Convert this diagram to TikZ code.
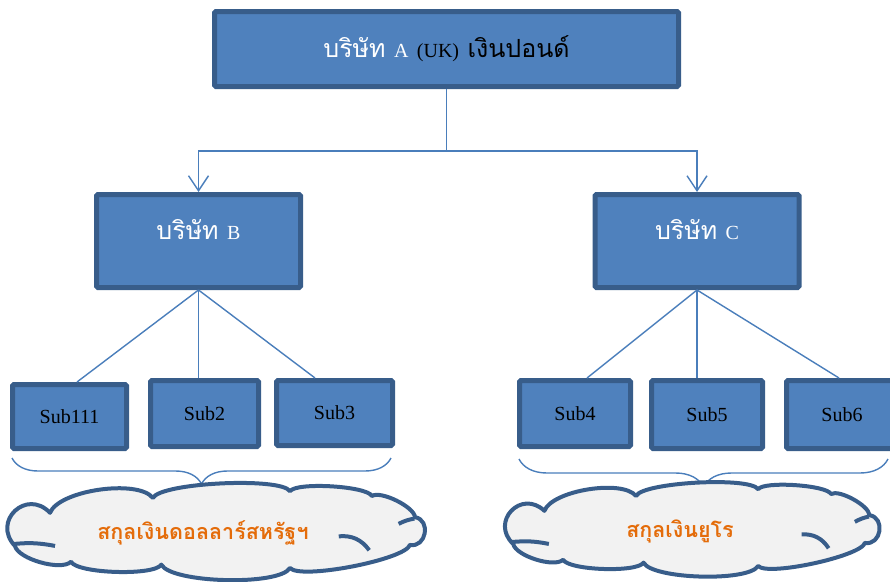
\documentclass[tikz,border=0pt]{standalone}
\usepackage{fontspec}
\setmainfont{Liberation Serif}
\newfontfamily\thaifont[Script=Thai]{Loma}
\usetikzlibrary{decorations.pathreplacing}
\usetikzlibrary{arrows.meta}
\usetikzlibrary{calc}
\definecolor{boxfill}{HTML}{4F81BD}
\definecolor{boxline}{HTML}{385D8A}
\definecolor{linkline}{HTML}{4A7EBB}
\definecolor{cloudfill}{HTML}{F2F2F2}
\definecolor{cloudtext}{HTML}{E46C0A}
\newcommand{\thaisize}{\fontsize{25}{30}\selectfont}
\newcommand{\latinsize}{\fontsize{20}{24}\selectfont}
\newcommand{\subsize}{\fontsize{20}{24}\selectfont}
\newcommand{\cloudsize}{\fontsize{21.5}{25}\selectfont}
\newcommand{\latin}[1]{{\latinsize\rmfamily #1}}
% cloud outline, in units of half width / half height
\newcommand{\currencycloud}[3]{%
  \begin{scope}[shift={#1}, x=#2, y=-#3]
    \draw[cloudbody] (-0.80,-0.40) to[bend left=60, looseness=0.6] (-0.31,-0.71)
      to[bend left=60, looseness=0.32] (0.343,-0.85)
      to[bend left=60, looseness=0.35] (0.733,-0.75)
      to[bend left=60, looseness=0.55] (0.938,-0.31)
      to[bend left=90, looseness=1.5] (0.914,0.27)
      to[bend left=60, looseness=0.33] (0.343,0.75)
      to[bend left=60, looseness=0.42] (-0.27,0.68)
      to[bend left=60, looseness=0.38] (-0.70,0.62)
      to[bend left=60, looseness=0.6] (-0.967,0.29)
      to[bend left=90, looseness=1.8] (-0.80,-0.40) -- cycle;
    \draw[cloudedge] (-0.974,0.25) to[bend left=8] (-0.776,0.29);
    \draw[cloudedge] (0.575,0.09) to[bend left=30] (0.72,0.38);
    \draw[cloudedge] (0.86,-0.17) to[bend left=8] (0.935,-0.28);
  \end{scope}}
\tikzset{
  orgbox/.style={draw=boxline, fill=boxfill, line width=5pt,
    rounded corners=1.5pt, inner sep=0pt},
  subbox/.style={orgbox, font=\subsize},
  boxtxt/.style={inner sep=0pt, text=white, font=\thaisize\thaifont},
  link/.style={draw=linkline, line width=1.4pt},
  linkarrow/.style={link,
    -{Straight Barb[length=15pt, width=20pt]}},
  groupbrace/.style={draw=linkline, line width=1.4pt, decorate,
    decoration={brace, mirror, amplitude=#1}},
  cloudbody/.style={draw=boxline, fill=cloudfill, line width=4pt,
    line join=round},
  cloudedge/.style={draw=boxline, line width=4pt},
  curtext/.style={font=\cloudsize\thaifont\bfseries, text=cloudtext}
}

\begin{document}
\begin{tikzpicture}[x=1pt, y=-1pt]
    \useasboundingbox (0,0) rectangle (890,581);

    % parent
    \node[orgbox, font=\thaisize\thaifont, minimum width=464pt,
      minimum height=75pt] (A) at (446.5,49)
      {\textcolor{white}{บริษัท \latin{A}} \latin{(UK)} เงินปอนด์};

    % subsidiaries
    \node[orgbox, minimum width=204pt, minimum height=93pt] (B) at (198.5,241) {};
    \node[orgbox, minimum width=204pt, minimum height=93pt] (C) at (697,241) {};
    \node[boxtxt] (Blabel) at ($(B.center)+(0,-11)$) {บริษัท \latin{B}};
    \node[boxtxt] (Clabel) at ($(C.center)+(0,-11)$) {บริษัท \latin{C}};

    \node[subbox, minimum width=114pt, minimum height=64pt] (s111) at (69.5,416.5) {Sub111};
    \node[subbox, minimum width=108pt, minimum height=66pt] (s2) at (204.5,413.5) {Sub2};
    \node[subbox, minimum width=116pt, minimum height=65pt] (s3) at (334.5,413) {Sub3};
    \node[subbox, minimum width=111pt, minimum height=66pt] (s4) at (575,413.5) {Sub4};
    \node[subbox, minimum width=111pt, minimum height=68pt] (s5) at (707,414.5) {Sub5};
    \node[subbox, minimum width=111pt, minimum height=68pt] (s6) at (842,414.5) {Sub6};

    % links
    \coordinate (fork) at ($(A.south)+(0,62)$);
    \draw[link] (A.south) -- (fork);
    \draw[linkarrow] (fork) -| (B.north);
    \draw[linkarrow] (fork) -| (C.north);

    \draw[link] (B.south) -- ($(s111.north)+(7.5,0)$);
    \draw[link] (B.south) -- (B.south |- s2.north);
    \draw[link] (B.south) -- ($(s3.north)+(-19.5,0)$);
    \draw[link] (C.south) -- ($(s4.north)+(12,0)$);
    \draw[link] (C.south) -- (C.south |- s5.north);
    \draw[link] (C.south) -- ($(s6.north)+(-3,0)$);

    % currency groups
    \draw[groupbrace=26pt] (12,458) -- (391,458);
    \draw[groupbrace=28pt] (519,459) -- (888,459);

    \currencycloud{(218,532)}{210pt}{48pt}
    \currencycloud{(694,530)}{187pt}{48pt}
    \node[curtext] (usdtxt) at (203,533) {สกุลเงินดอลลาร์สหรัฐฯ};
    \node[curtext] (eurtxt) at (680,531) {สกุลเงินยูโร};
  \end{tikzpicture}
\end{document}
